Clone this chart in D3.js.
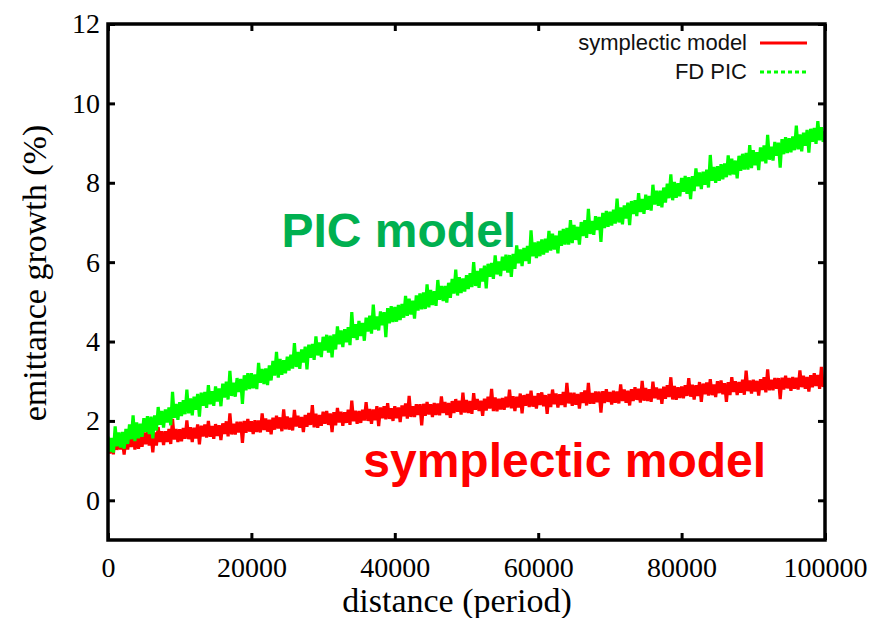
<!DOCTYPE html>
<html><head><meta charset="utf-8">
<script src="https://cdn.jsdelivr.net/npm/d3@7"></script>
<style>body{margin:0;background:#fff}svg{display:block}</style>
</head><body>
<svg id="c" width="875" height="618"></svg>
<script>
// ---- data, one sample every 250 periods ----
const xStep = 250;
const symplecticValues = [
1.51,1.18,1.48,1.16,1.69,1.27,1.54,1.28,1.53,1.15,1.58,1.28,1.64,1.34,1.84,1.28,1.65,1.30,1.62,1.35,
1.71,1.41,1.73,1.38,1.68,1.21,1.71,1.38,1.84,1.47,1.74,1.39,1.74,1.47,1.80,1.42,2.05,1.53,1.80,1.47,
1.79,1.49,1.82,1.55,2.01,1.54,1.84,1.47,1.83,1.56,1.91,1.41,1.88,1.61,1.91,1.58,2.00,1.60,1.87,1.55,
1.92,1.62,1.89,1.52,1.94,1.67,1.99,1.61,2.19,1.66,1.93,1.66,1.98,1.71,1.98,1.45,2.00,1.70,2.05,1.73,
1.99,1.67,2.02,1.72,2.01,1.71,2.19,1.77,2.06,1.73,2.03,1.66,2.08,1.78,2.13,1.81,2.09,1.74,2.29,1.79,
2.11,1.78,2.08,1.76,2.28,1.86,2.13,1.83,2.10,1.72,2.15,1.85,2.20,1.90,2.40,1.84,2.18,1.83,2.15,1.88,
2.23,1.93,2.25,1.90,2.19,1.72,2.22,1.89,2.33,1.96,2.23,1.88,2.22,1.95,2.28,1.90,2.51,1.99,2.26,1.93,
2.25,1.95,2.28,2.01,2.47,2.00,2.30,1.93,2.29,2.02,2.37,1.87,2.34,2.07,2.37,2.04,2.45,2.05,2.32,2.00,
2.37,2.07,2.34,1.97,2.39,2.12,2.44,2.06,2.63,2.10,2.37,2.10,2.42,2.15,2.42,1.89,2.43,2.13,2.48,2.16,
2.42,2.10,2.45,2.15,2.44,2.14,2.62,2.20,2.48,2.15,2.45,2.08,2.50,2.20,2.55,2.23,2.51,2.16,2.71,2.21,
2.53,2.20,2.50,2.18,2.70,2.28,2.55,2.25,2.51,2.13,2.56,2.26,2.61,2.31,2.81,2.25,2.59,2.24,2.56,2.29,
2.58,2.28,2.61,2.34,2.79,2.32,2.62,2.25,2.61,2.34,2.69,2.19,2.65,2.38,2.68,2.35,2.76,2.36,2.63,2.31,
2.70,2.40,2.72,2.37,2.65,2.18,2.68,2.35,2.79,2.42,2.69,2.34,2.67,2.40,2.73,2.35,2.96,2.44,2.71,2.38,
2.71,2.41,2.68,2.31,2.72,2.45,2.77,2.39,2.96,2.43,2.70,2.43,2.74,2.47,2.74,2.21,2.75,2.45,2.80,2.48,
2.73,2.41,2.76,2.46,2.74,2.44,2.92,2.50,2.79,2.46,2.76,2.39,2.80,2.50,2.85,2.53,2.81,2.46,3.01,2.51,
2.83,2.50,2.80,2.48,2.99,2.57,2.84,2.54,2.81,2.43,2.86,2.56,2.90,2.60,3.10,2.54,2.88,2.53,2.85,2.58,
2.87,2.57,2.90,2.63,3.08,2.61,2.91,2.54,2.90,2.63,2.98,2.48,2.94,2.67,2.97,2.64,3.05,2.65,2.92,2.60,
3.00,2.70,3.02,2.67,2.95,2.48,2.98,2.65,3.10,2.73,3.00,2.65,2.98,2.71,3.04,2.66,3.27,2.75,3.02,2.69,
3.04,2.74,3.01,2.64,3.05,2.78,3.10,2.72,3.30,2.77,3.04,2.77,3.08,2.81,3.08,2.55,3.09,2.79,3.14,2.82,
3.08,2.76,3.11,2.81,3.09,2.79,3.27,2.85,3.14,2.81,3.11,2.74,3.15,2.85,3.20,2.88,3.16,2.81,3.36,2.86,
3.02];
const fdPicValues = [
1.60,1.22,1.57,1.20,1.86,1.36,1.71,1.33,1.72,1.30,1.80,1.42,1.91,1.54,2.14,1.49,1.96,1.56,1.93,1.60,
2.07,1.72,2.12,1.67,2.11,1.56,2.14,1.76,2.35,1.90,2.25,1.83,2.29,1.96,2.34,1.89,2.73,2.08,2.43,2.03,
2.47,2.12,2.52,2.17,2.79,2.19,2.57,2.14,2.61,2.28,2.68,2.11,2.71,2.38,2.73,2.33,2.90,2.42,2.75,2.38,
2.87,2.49,2.82,2.37,2.94,2.59,2.99,2.54,3.26,2.63,2.96,2.61,3.08,2.73,3.06,2.43,3.15,2.77,3.20,2.80,
3.20,2.82,3.17,2.80,3.46,2.96,3.31,2.93,3.32,2.90,3.40,3.02,3.51,3.14,3.74,3.09,3.56,3.16,3.53,3.20,
3.62,3.27,3.67,3.32,3.96,3.36,3.74,3.31,3.80,3.47,3.87,3.30,3.92,3.59,3.94,3.54,4.13,3.65,3.98,3.61,
4.12,3.77,4.17,3.72,4.15,3.60,4.18,3.80,4.38,3.93,4.28,3.86,4.31,3.98,4.36,3.91,4.74,4.09,4.44,4.04,
4.52,4.14,4.47,4.02,4.60,4.25,4.65,4.20,4.93,4.30,4.63,4.28,4.76,4.41,4.74,4.11,4.84,4.46,4.89,4.49,
4.87,4.50,4.92,4.54,4.95,4.60,5.15,4.65,5.08,4.68,5.03,4.58,5.16,4.78,5.21,4.81,5.24,4.82,5.44,4.86,
5.30,4.92,5.27,4.90,5.55,5.05,5.40,5.02,5.40,4.98,5.48,5.10,5.58,5.21,5.81,5.16,5.62,5.22,5.59,5.26,
5.67,5.32,5.72,5.37,6.00,5.40,5.78,5.35,5.84,5.51,5.91,5.34,5.96,5.63,5.98,5.58,6.17,5.69,6.02,5.65,
6.14,5.79,6.19,5.74,6.18,5.63,6.21,5.83,6.42,5.97,6.32,5.90,6.36,6.03,6.41,5.96,6.80,6.15,6.50,6.10,
6.52,6.15,6.57,6.19,6.59,6.24,6.79,6.29,6.72,6.32,6.67,6.22,6.79,6.41,6.84,6.44,6.86,6.44,7.06,6.48,
6.94,6.56,6.89,6.44,7.01,6.66,7.06,6.61,7.34,6.71,7.04,6.69,7.16,6.81,7.14,6.51,7.24,6.86,7.29,6.89,
7.27,6.92,7.32,6.97,7.60,7.00,7.38,6.95,7.43,7.10,7.50,6.93,7.54,7.21,7.56,7.16,7.74,7.26,7.59,7.22,
7.70,7.32,7.67,7.30,7.95,7.45,7.80,7.42,7.80,7.38,7.88,7.50,7.98,7.61,8.21,7.56,8.02,7.62,7.99,7.66,
8.12,7.77,8.17,7.72,8.14,7.59,8.17,7.79,8.36,7.91,8.26,7.84,8.28,7.95,8.33,7.88,8.70,8.05,8.40,8.00,
8.42,8.05,8.47,8.09,8.49,8.14,8.69,8.19,8.61,8.21,8.56,8.11,8.68,8.30,8.73,8.33,8.75,8.33,8.95,8.37,
8.82,8.44,8.77,8.32,8.89,8.54,8.94,8.49,9.21,8.58,8.91,8.56,9.03,8.68,9.01,8.38,9.10,8.72,9.15,8.75,
9.12,8.77,9.17,8.82,9.44,8.84,9.22,8.79,9.26,8.93,9.33,8.76,9.36,9.03,9.38,8.98,9.55,9.07,9.40,9.03,
9.30];
const seriesNames = ["symplectic model", "FD PIC"];
const seriesColors = ["#ff0000", "#00ff00"];
const xTicks = [0, 20000, 40000, 60000, 80000, 100000];
const yTicks = [0, 2, 4, 6, 8, 10, 12];
const xDomain = [0, 100000];
const yDomain = [-1, 12];
const xTitle = "distance (period)";
const yTitle = "emittance growth (%)";
const annotations = [
  {text: "PIC model", x: 24200, y: 6.38, color: "#00b050"},
  {text: "symplectic model", x: 35600, y: 0.58, color: "#ff0000"}
];

// ---- layout ----
const L = 108, R = 825, T = 24, B = 540;
const svg = d3.select("#c");
const x = d3.scaleLinear().domain(xDomain).range([L, R]);
const y = d3.scaleLinear().domain(yDomain).range([B, T]);
const serif = "'Liberation Serif','Times New Roman',serif";
const sans = "'Liberation Sans',Arial,sans-serif";

const series = [symplecticValues, fdPicValues].map(v => v.map((d, i) => [i * xStep, d]));
const line = d3.line().x(d => x(d[0])).y(d => y(d[1]));

svg.append("defs").append("clipPath").attr("id", "clip")
  .append("rect").attr("x", L).attr("y", T).attr("width", R - L).attr("height", B - T);

const g = svg.append("g").attr("clip-path", "url(#clip)");
series.forEach((s, i) => {
  g.append("path").datum(s).attr("d", line)
    .attr("fill", "none").attr("stroke", seriesColors[i])
    .attr("stroke-width", 3.2).attr("stroke-linejoin", "miter").attr("stroke-miterlimit", 3);
});

// axes (ticks inside, mirrored)
function styleAxis(sel) {
  sel.select(".domain").remove();
  sel.selectAll(".tick line").attr("stroke", "#000").attr("stroke-width", 3);
  sel.selectAll(".tick text").attr("font-family", serif).attr("font-size", 28).attr("fill", "#000");
}
svg.append("g").attr("transform", `translate(0,${B})`)
  .call(d3.axisBottom(x).tickValues(xTicks).tickFormat(d3.format("d")).tickSize(-7).tickPadding(17))
  .call(styleAxis);
svg.append("g").attr("transform", `translate(0,${T})`)
  .call(d3.axisTop(x).tickValues(xTicks).tickFormat("").tickSize(-7))
  .call(styleAxis);
svg.append("g").attr("transform", `translate(${L},0)`)
  .call(d3.axisLeft(y).tickValues(yTicks).tickFormat(d3.format("d")).tickSize(-7).tickPadding(8))
  .call(styleAxis);
svg.append("g").attr("transform", `translate(${R},0)`)
  .call(d3.axisRight(y).tickValues(yTicks).tickFormat("").tickSize(-7))
  .call(styleAxis);

svg.append("rect").attr("x", L).attr("y", T).attr("width", R - L).attr("height", B - T)
  .attr("fill", "none").attr("stroke", "#000").attr("stroke-width", 3.5);

// titles
svg.append("text").attr("x", 457).attr("y", 612).attr("text-anchor", "middle")
  .attr("font-family", serif).attr("font-size", 34).text(xTitle);
svg.append("text").attr("transform", `translate(46,${273}) rotate(-90)`).attr("text-anchor", "middle")
  .attr("font-family", serif).attr("font-size", 34).text(yTitle);

// legend
const legend = svg.append("g");
seriesNames.forEach((name, i) => {
  const ly = 43 + i * 29;
  legend.append("text").attr("x", 747).attr("y", ly + 7).attr("text-anchor", "end")
    .attr("font-family", sans).attr("font-size", 22).attr("fill", "#111").text(name);
  legend.append("line").attr("x1", 760).attr("x2", 807).attr("y1", ly).attr("y2", ly)
    .attr("stroke", seriesColors[i]).attr("stroke-width", 3)
    .attr("stroke-dasharray", i === 1 ? "4,3" : null);
});

// annotations
annotations.forEach(a => {
  svg.append("text").attr("x", x(a.x)).attr("y", y(a.y))
    .attr("font-family", sans).attr("font-weight", "bold").attr("font-size", 48)
    .attr("fill", a.color).text(a.text);
});
</script>
</body></html>
